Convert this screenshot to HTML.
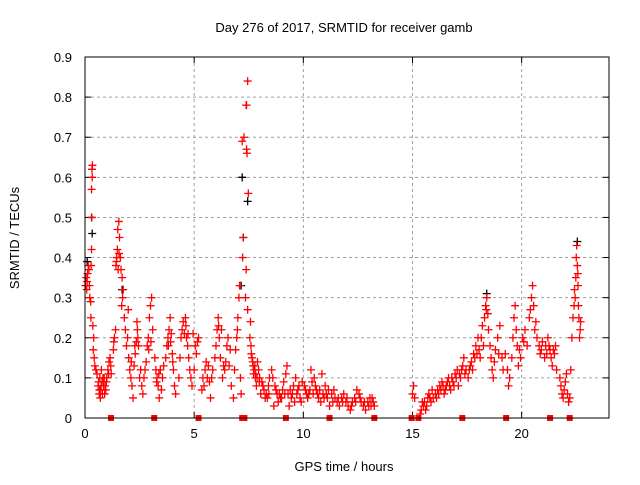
<!DOCTYPE html>
<html><head><meta charset="utf-8"><style>
body{margin:0;background:#fff}
svg text{font-family:"Liberation Sans",sans-serif;font-size:13px;fill:#000}
</style></head><body>
<svg id="chart" width="640" height="480" xmlns="http://www.w3.org/2000/svg">
<text x="344" y="32" text-anchor="middle">Day 276 of 2017, SRMTID for receiver gamb</text>
<g id="grid"></g>
<g id="ticks"></g>
<g id="black"></g>
<g id="red"></g>
<g id="markers"></g>
<rect x="85" y="57" width="524" height="361" fill="none" stroke="#000" stroke-width="1"/>
<text x="344" y="471" text-anchor="middle">GPS time / hours</text>
<text transform="translate(19,238) rotate(-90)" text-anchor="middle">SRMTID / TECUs</text>
</svg>
<script>
const xTicks=[0,5,10,15,20];
const yTicks=[0,0.1,0.2,0.3,0.4,0.5,0.6,0.7,0.8,0.9];
const redPts=[
[0.02,0.33],[0.05,0.35],[0.08,0.32],[0.1,0.34],[0.12,0.36],[0.15,0.38],[0.18,0.37],[0.2,0.33],[0.22,0.3],
[0.3,0.57],[0.32,0.62],[0.34,0.63],[0.33,0.6],[0.31,0.5],[0.3,0.42],[0.28,0.38],[0.26,0.29],[0.27,0.25],
[0.4,0.2],[0.42,0.15],[0.45,0.13],[0.5,0.12],[0.55,0.11],[0.36,0.23],[0.38,0.17],
[0.6,0.08],[0.65,0.06],[0.7,0.05],[0.72,0.07],[0.78,0.09],[0.82,0.1],[0.85,0.08],[0.9,0.06],[0.95,0.07],[0.98,0.09],[0.68,0.1],[0.75,0.12],
[0.62,0.09],[0.66,0.07],[0.74,0.08],[0.8,0.06],[0.88,0.1],[0.92,0.08],
[1.0,0.1],[1.05,0.12],[1.1,0.14],[1.15,0.15],[1.2,0.11],[1.08,0.11],[1.18,0.13],
[1.3,0.17],[1.35,0.2],[1.4,0.22],[1.42,0.38],[1.45,0.4],[1.48,0.42],[1.5,0.47],[1.55,0.49],[1.58,0.45],[1.52,0.37],[1.44,0.39],[1.56,0.41],[1.32,0.19],
[1.62,0.4],[1.65,0.37],[1.7,0.35],[1.72,0.3],[1.75,0.32],[1.8,0.25],[1.85,0.22],[1.9,0.18],[1.95,0.2],[1.98,0.27],[1.68,0.28],
[2.0,0.15],[2.05,0.12],[2.1,0.1],[2.15,0.08],[2.2,0.05],[2.25,0.13],[2.3,0.16],[2.35,0.19],[2.4,0.22],[2.45,0.18],[2.38,0.24],[2.12,0.14],[2.28,0.18],[2.42,0.2],
[2.5,0.1],[2.55,0.12],[2.6,0.08],[2.65,0.06],[2.7,0.1],[2.8,0.14],[2.85,0.18],[2.9,0.2],[2.95,0.25],[3.0,0.28],[3.05,0.3],[3.1,0.22],[2.75,0.12],[2.92,0.17],[3.02,0.19],
[3.2,0.15],[3.25,0.12],[3.3,0.1],[3.35,0.08],[3.4,0.05],[3.5,0.07],[3.55,0.1],[3.6,0.13],[3.45,0.12],[3.28,0.09],[3.38,0.11],
[3.7,0.15],[3.75,0.18],[3.8,0.2],[3.85,0.22],[3.9,0.25],[3.95,0.21],[4.0,0.16],[4.05,0.12],[4.1,0.08],[4.15,0.06],[3.82,0.18],[3.92,0.19],[4.02,0.14],
[4.3,0.1],[4.35,0.15],[4.4,0.2],[4.45,0.22],[4.5,0.24],[4.6,0.25],[4.65,0.2],[4.7,0.18],[4.75,0.15],[4.8,0.12],[4.85,0.1],[4.9,0.08],[5.0,0.12],[5.1,0.16],[5.15,0.19],[5.2,0.2],[4.55,0.21],[4.95,0.21],[4.62,0.23],[4.72,0.21],[5.05,0.18],
[5.35,0.07],[5.4,0.1],[5.5,0.12],[5.55,0.14],[5.6,0.1],[5.7,0.09],[5.75,0.05],[5.85,0.12],[5.95,0.15],[5.65,0.13],[5.45,0.08],[5.8,0.1],
[6.0,0.18],[6.05,0.22],[6.1,0.25],[6.15,0.2],[6.2,0.15],[6.3,0.1],[6.4,0.12],[6.45,0.14],[6.5,0.18],[6.55,0.2],[6.6,0.13],[6.7,0.08],[6.25,0.22],[6.12,0.23],[6.35,0.13],[6.65,0.17],
[6.8,0.05],[6.85,0.12],[6.9,0.17],[6.95,0.2],[7.0,0.25],[7.05,0.3],[7.08,0.33],[7.12,0.1],[7.15,0.06],[6.98,0.22],
[7.22,0.4],[7.25,0.45],[7.2,0.69],[7.28,0.7],[7.4,0.78],[7.45,0.84],[7.42,0.66],[7.48,0.56],[7.38,0.37],[7.35,0.3],[7.45,0.27],[7.38,0.78],[7.4,0.67],
[7.55,0.2],[7.6,0.18],[7.65,0.15],[7.7,0.13],[7.75,0.12],[7.8,0.1],[7.85,0.08],[7.9,0.14],[7.95,0.12],[8.0,0.1],[8.1,0.09],[8.2,0.07],[8.3,0.06],[8.35,0.05],[8.4,0.08],[8.45,0.1],[7.58,0.24],[8.05,0.06],
[7.62,0.16],[7.68,0.14],[7.72,0.11],[7.78,0.13],[7.82,0.11],[7.88,0.1],[7.98,0.09],[8.15,0.08],[8.25,0.05],[8.42,0.06],
[8.55,0.12],[8.6,0.1],[8.7,0.08],[8.8,0.06],[8.85,0.04],[8.95,0.05],[9.05,0.07],[9.1,0.09],[9.2,0.11],[9.3,0.06],[9.35,0.03],[9.45,0.05],[9.55,0.08],[9.65,0.1],[9.75,0.07],[9.85,0.05],[9.9,0.04],[9.95,0.09],[9.25,0.13],[8.65,0.03],
[8.75,0.07],[8.9,0.06],[9.0,0.05],[9.15,0.06],[9.4,0.07],[9.5,0.06],[9.6,0.04],[9.7,0.06],[9.8,0.08],
[10.05,0.08],[10.15,0.06],[10.2,0.05],[10.3,0.07],[10.4,0.09],[10.5,0.1],[10.6,0.07],[10.7,0.05],[10.8,0.04],[10.9,0.06],[11.0,0.08],[11.1,0.05],[11.2,0.03],[11.3,0.06],[11.4,0.07],[11.45,0.05],[10.35,0.12],[10.85,0.11],
[10.1,0.07],[10.25,0.06],[10.45,0.06],[10.55,0.08],[10.65,0.06],[10.75,0.07],[10.95,0.05],[11.05,0.06],[11.15,0.07],[11.35,0.04],
[11.55,0.04],[11.65,0.03],[11.75,0.05],[11.85,0.06],[11.95,0.04],[12.05,0.03],[12.15,0.02],[12.25,0.04],[12.35,0.05],[12.45,0.07],[12.55,0.06],[12.65,0.04],[12.75,0.03],[12.85,0.02],[12.95,0.04],[13.05,0.05],[13.1,0.03],[13.2,0.04],[13.25,0.03],
[11.6,0.05],[11.8,0.04],[12.0,0.05],[12.2,0.03],[12.4,0.04],[12.6,0.05],[12.8,0.04],[13.0,0.03],[13.15,0.05],
[15.0,0.06],[15.05,0.08],[15.1,0.05],
[15.35,0.01],[15.4,0.02],[15.5,0.03],[15.55,0.04],[15.6,0.02],[15.7,0.05],[15.75,0.06],[15.85,0.04],[15.9,0.07],[15.95,0.05],[15.45,0.04],[15.65,0.03],[15.8,0.05],
[16.05,0.06],[16.15,0.07],[16.25,0.08],[16.35,0.09],[16.45,0.06],[16.55,0.08],[16.65,0.1],[16.75,0.07],[16.85,0.09],[16.95,0.11],[17.05,0.12],[17.1,0.08],[17.2,0.1],[17.3,0.13],[17.35,0.15],[17.45,0.12],
[16.1,0.05],[16.2,0.06],[16.3,0.07],[16.4,0.08],[16.5,0.07],[16.6,0.09],[16.7,0.08],[16.8,0.1],[16.9,0.08],[17.0,0.1],[17.15,0.11],[17.25,0.12],[17.4,0.11],
[17.55,0.1],[17.6,0.12],[17.7,0.14],[17.8,0.16],[17.9,0.18],[18.0,0.2],[18.05,0.17],[18.1,0.15],[18.15,0.2],[18.2,0.23],[18.3,0.25],[18.35,0.28],[18.4,0.3],[18.45,0.26],[18.48,0.22],
[17.65,0.13],[17.75,0.12],[17.85,0.15],[17.95,0.16],[18.25,0.18],[18.38,0.27],
[18.55,0.18],[18.6,0.15],[18.65,0.12],[18.7,0.1],[18.8,0.17],[18.9,0.2],[19.0,0.23],[19.1,0.15],[19.15,0.12],[19.25,0.16],[18.75,0.14],[18.95,0.16],
[19.35,0.12],[19.4,0.08],[19.45,0.1],[19.55,0.15],[19.6,0.2],[19.65,0.25],[19.7,0.28],[19.75,0.22],[19.8,0.18],[19.85,0.13],[19.95,0.15],[20.05,0.2],[20.15,0.22],[20.25,0.18],[19.9,0.17],[20.1,0.19],
[20.35,0.25],[20.45,0.3],[20.5,0.33],[20.55,0.28],[20.6,0.22],[20.7,0.2],[20.8,0.18],[20.85,0.16],[20.95,0.19],[20.4,0.27],[20.65,0.24],[20.9,0.17],
[21.05,0.15],[21.1,0.18],[21.2,0.2],[21.3,0.17],[21.35,0.15],[21.4,0.13],[21.5,0.16],[21.55,0.18],[21.6,0.12],[21.15,0.16],[21.25,0.18],[21.45,0.17],
[21.75,0.1],[21.8,0.08],[21.85,0.06],[21.9,0.05],[21.95,0.07],[22.0,0.09],[22.05,0.11],[22.1,0.06],[22.15,0.04],[22.2,0.05],
[22.25,0.12],[22.3,0.2],[22.35,0.25],[22.4,0.28],[22.45,0.3],[22.48,0.35],[22.5,0.4],[22.52,0.43],[22.55,0.38],[22.58,0.33],[22.6,0.28],[22.62,0.25],[22.65,0.2],[22.68,0.22],[22.7,0.24],[22.42,0.32],[22.57,0.36]
];
const blackPts=[[0.3,0.5],[0.33,0.46],[7.2,0.6],[7.25,0.45],[7.45,0.54],[22.55,0.44],[1.7,0.32],[18.4,0.31],[7.15,0.33],[0.1,0.39]];
const markerHours=[1.19,3.17,5.2,7.2,7.3,9.2,11.2,13.25,14.96,15.27,17.28,19.29,21.3,22.2];
const NS='http://www.w3.org/2000/svg';
const X0=85,X1=609,Y0=418,Y1=57,XMAX=24,YMAX=0.9;
function sx(h){return X0+h/XMAX*(X1-X0);}
function sy(v){return Y0-v/YMAX*(Y0-Y1);}
function mk(tag,attrs){const e=document.createElementNS(NS,tag);for(const k in attrs)e.setAttribute(k,attrs[k]);return e;}
const grid=document.getElementById('grid'),ticks=document.getElementById('ticks');
xTicks.forEach(t=>{const x=sx(t);
 if(t>0){const l=mk('line',{x1:x,x2:x,y1:Y1,y2:Y0,stroke:'#a0a0a0','stroke-dasharray':'3,3'});grid.appendChild(l);}
 ticks.appendChild(mk('line',{x1:x,x2:x,y1:Y0,y2:Y0-6,stroke:'#000'}));
 ticks.appendChild(mk('line',{x1:x,x2:x,y1:Y1,y2:Y1+6,stroke:'#000'}));
 const tx=mk('text',{x:x,y:Y0+20,'text-anchor':'middle'});tx.textContent=t;
 
 
 ticks.appendChild(tx);});
yTicks.forEach(t=>{const y=sy(t);
 if(t>0&&t<0.9){const l=mk('line',{x1:X0,x2:X1,y1:y,y2:y,stroke:'#a0a0a0','stroke-dasharray':'3,3'});grid.appendChild(l);}
 ticks.appendChild(mk('line',{x1:X0,x2:X0+6,y1:y,y2:y,stroke:'#000'}));
 ticks.appendChild(mk('line',{x1:X1,x2:X1-6,y1:y,y2:y,stroke:'#000'}));
 const tx=mk('text',{x:72,y:y+5,'text-anchor':'end'});tx.textContent=t===0?'0':t.toFixed(1);
 
 
 ticks.appendChild(tx);});
function plus(g,p,col){const x=sx(p[0]),y=sy(p[1]);
 const e=mk('path',{d:`M${x-4},${y}H${x+4}M${x},${y-4}V${y+4}`,stroke:col,'stroke-width':1.3,fill:'none'});
 
 
 g.appendChild(e);}
const bg=document.getElementById('black'),rg=document.getElementById('red');
blackPts.forEach(p=>plus(bg,p,'#000'));
redPts.forEach(p=>plus(rg,p,'#f00'));
const mg=document.getElementById('markers');
markerHours.forEach(h=>{const r=mk('rect',{x:sx(h)-3,y:Y0-3,width:6,height:6,fill:'#f00'});
 
 
 mg.appendChild(r);});
</script>
</body></html>
